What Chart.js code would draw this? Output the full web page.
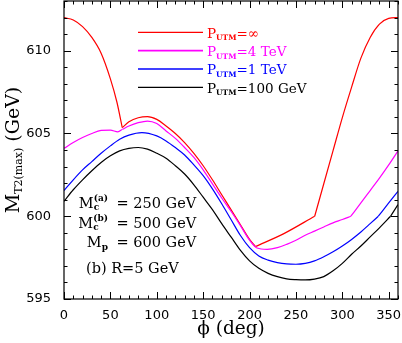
<!DOCTYPE html>
<html><head><meta charset="utf-8">
<script src="https://cdn.jsdelivr.net/npm/chart.js@4/dist/chart.umd.min.js"></script>
<style>html,body{margin:0;padding:0;background:#fff;}canvas{display:block;}</style>
</head><body>
<canvas id="c" width="402" height="343"></canvas>
<script>
// ---- data (phi in deg, M_T2(max) in GeV) ----
const phiRed = [0,10,20,30,40,50,57,62.8,70,80,90,100,110,120,130,140,150,160,170,180,190,200,206.3,237,270.2,280,290,300,310,320,330,340,350,360];
const mRed   = [612.0,611.85,611.45,610.8,609.85,608.3,606.9,605.35,605.7,605.95,606.02,605.85,605.45,605.0,604.45,603.8,603.05,602.2,601.3,600.4,599.5,598.6,598.17,598.95,600.0,601.96,603.96,605.96,607.8,609.55,610.8,611.6,611.95,612.0];
const kinksRed = [62.8,206.3,270.2];

const phiMag = [0,10,20,30,40,50,58,63,70,80,90,100,110,120,130,140,150,160,170,180,190,200,208,219,230,240,250,260,270,280,290,300,309.2,320,330,340,350,360];
const mMag   = [604.1,604.45,604.75,605.0,605.18,605.2,605.1,605.25,605.45,605.65,605.75,605.6,605.15,604.7,604.15,603.55,602.8,601.95,601.1,600.3,599.45,598.55,598.08,598.0,598.1,598.3,598.55,598.85,599.1,599.35,599.6,599.8,600.0,600.8,601.55,602.3,603.1,603.95];
const kinksMag = [63,309.2];

const phiBlue = [0,10,20,30,40,50,60,70,84,100,110,120,130,140,150,160,170,180,190,200,210,220,230,240,250,260,270,280,290,300,310,320,330,338.8,350,360];
const mBlue   = [601.55,602.2,602.8,603.3,603.8,604.25,604.65,604.9,605.05,604.85,604.55,604.15,603.7,603.1,602.45,601.65,600.75,599.8,598.85,598.1,597.6,597.35,597.2,597.12,597.1,597.15,597.3,597.55,597.85,598.2,598.6,599.05,599.55,600.0,600.8,601.5];
const kinksBlue = [338.8];

const phiBlack = [0,10,20,30,40,50,60,70,80,90,100,110,120,130,140,150,160,170,180,190,200,210,220,230,240,250,260,270,280,290,300,310,320,330,340,352,360];
const mBlack   = [600.9,601.6,602.2,602.75,603.25,603.65,603.95,604.1,604.15,604.05,603.8,603.5,603.05,602.55,601.9,601.15,600.4,599.55,598.75,597.95,597.3,596.85,596.55,596.35,596.22,596.17,596.15,596.2,596.35,596.7,597.15,597.7,598.2,598.75,599.3,600.0,600.7];
const kinksBlack = [352];

const xTickValues = [0,50,100,150,200,250,300,350];
const yTickValues = [595,600,605,610];
const legendLabels = ['=\u221E','=4 TeV','=1 TeV','=100 GeV'];
const seriesColors = ['#ff0000','#ff00ff','#0000ff','#000000'];

// split a series at kink positions into smooth pieces (kink point shared)
function pieces(xs, ys, kinks) {
  const out = []; let cur = [];
  xs.forEach((x,i)=>{
    cur.push({x:x, y:ys[i]});
    if (kinks.includes(x) && i>0 && i<xs.length-1) { out.push(cur); cur = [{x:x, y:ys[i]}]; }
  });
  out.push(cur);
  return out;
}

const SERIF = '"DejaVu Serif", serif';

function drawParts(ctx, x, y, parts, align) {
  const widths = parts.map(p => {
    ctx.font = p.font;
    if (p.stack) return Math.max(...p.stack.map(s=>ctx.measureText(s.t).width));
    return ctx.measureText(p.t).width;
  });
  const total = widths.reduce((a,b)=>a+b,0);
  let cx = align==='center' ? x - total/2 : (align==='right' ? x - total : x);
  parts.forEach((p,i)=>{
    ctx.font = p.font;
    if (p.stack) p.stack.forEach(s=>ctx.fillText(s.t, cx, y + s.dy));
    else ctx.fillText(p.t, cx, y + (p.dy||0));
    cx += widths[i];
  });
  return cx;
}

const decor = {
  id:'decor',
  afterDraw(chart) {
    const ctx = chart.ctx, a = chart.chartArea;
    const xs = chart.scales.x, ys = chart.scales.y;
    ctx.save();
    ctx.strokeStyle = '#000'; ctx.lineWidth = 1.2;
    ctx.strokeRect(a.left, a.top, a.right-a.left, a.bottom-a.top);
    ctx.lineWidth = 1;
    ctx.beginPath();
    for (let v=0; v<=360; v+=10) {
      const px = Math.round(xs.getPixelForValue(v))+0.5;
      const L = (v%50===0) ? 7 : 3.5;
      ctx.moveTo(px, a.bottom); ctx.lineTo(px, a.bottom-L);
      ctx.moveTo(px, a.top); ctx.lineTo(px, a.top+L);
    }
    for (let v=595; v<=613; v+=1) {
      const py = Math.round(ys.getPixelForValue(v))+0.5;
      const L = (v%5===0) ? 7 : 3.5;
      ctx.moveTo(a.left, py); ctx.lineTo(a.left+L, py);
      ctx.moveTo(a.right, py); ctx.lineTo(a.right-L, py);
    }
    ctx.stroke();

    // legend
    ctx.textAlign = 'left'; ctx.textBaseline = 'alphabetic';
    for (let i=0;i<4;i++) {
      const ly = 32.3 + i*18.35;
      ctx.strokeStyle = seriesColors[i]; ctx.lineWidth = (i===1||i===2) ? 1.7 : 1.3;
      ctx.beginPath(); ctx.moveTo(138, ly); ctx.lineTo(203, ly); ctx.stroke();
      ctx.fillStyle = seriesColors[i];
      drawParts(ctx, 207, ly+5.2, [
        {t:'P', font:'13.5px '+SERIF},
        {t:'UTM', font:'bold 7.5px '+SERIF, dy:2.8},
        {t:legendLabels[i], font:'13.5px '+SERIF}
      ], 'left');
    }

    // annotations
    ctx.fillStyle = '#000';
    const F = '14.5px '+SERIF, S = 'bold 9px '+SERIF;
    drawParts(ctx, 108, 208.3, [{t:'M', font:F},{stack:[{t:'c',dy:2},{t:'(a)',dy:-7}], font:S}], 'right');
    drawParts(ctx, 116.5, 208.3, [{t:'= 250 GeV', font:F}], 'left');
    drawParts(ctx, 108, 227.7, [{t:'M', font:F},{stack:[{t:'c',dy:2},{t:'(b)',dy:-7}], font:S}], 'right');
    drawParts(ctx, 116.5, 227.7, [{t:'= 500 GeV', font:F}], 'left');
    drawParts(ctx, 108, 246.7, [{t:'M', font:F},{t:'p', font:S, dy:3}], 'right');
    drawParts(ctx, 116.5, 246.7, [{t:'= 600 GeV', font:F}], 'left');
    drawParts(ctx, 86, 273.3, [{t:'(b) R=5 GeV', font:F}], 'left');

    // x title
    drawParts(ctx, (a.left+a.right)/2, 334, [{t:'\u03D5 (deg)', font:'18.5px '+SERIF}], 'center');
    // y title
    ctx.translate(18.5, (a.top+a.bottom)/2);
    ctx.rotate(-Math.PI/2);
    drawParts(ctx, 0, 0, [
      {t:'M', font:'19px '+SERIF},
      {t:'T2(max)', font:'11px '+SERIF, dy:3.5},
      {t:' (GeV)', font:'19px '+SERIF}
    ], 'center');
    ctx.restore();
  }
};

const datasets = [];
[[phiBlack,mBlack,kinksBlack,3],[phiBlue,mBlue,kinksBlue,2],[phiMag,mMag,kinksMag,1],[phiRed,mRed,kinksRed,0]].forEach(([xs,ys,k,ci])=>{
  pieces(xs,ys,k).forEach(pts=>datasets.push({
    data: pts, borderColor: seriesColors[ci], backgroundColor: seriesColors[ci],
    borderWidth: 1.2, pointRadius: 0, fill: false, cubicInterpolationMode: 'monotone'
  }));
});

new Chart(document.getElementById('c'), {
  type: 'line',
  data: { datasets },
  options: {
    responsive: false, animation: false, devicePixelRatio: 1,
    layout: { padding: { top: 1, right: 4, left: 0, bottom: 0 } },
    plugins: { legend: { display: false }, tooltip: { enabled: false } },
    scales: {
      x: {
        type: 'linear', min: 0, max: 360,
        afterBuildTicks: s => { s.ticks = xTickValues.map(v=>({value:v})); },
        afterFit: s => { s.height = 44; s.paddingLeft = 0; s.paddingRight = 0; },
        grid: { display: false }, border: { display: false },
        ticks: { color:'#000', font:{ family:'"DejaVu Sans", sans-serif', size:13 }, padding: 1, maxRotation:0, autoSkip:false }
      },
      y: {
        type: 'linear', min: 595, max: 613,
        afterBuildTicks: s => { s.ticks = yTickValues.map(v=>({value:v})); },
        afterFit: s => { s.width = 64; s.paddingTop = 0; s.paddingBottom = 0; },
        grid: { display: false }, border: { display: false },
        ticks: { color:'#000', font:{ family:'"DejaVu Sans", sans-serif', size:13 }, padding: 5, autoSkip:false }
      }
    }
  },
  plugins: [decor]
});
</script>
</body></html>
